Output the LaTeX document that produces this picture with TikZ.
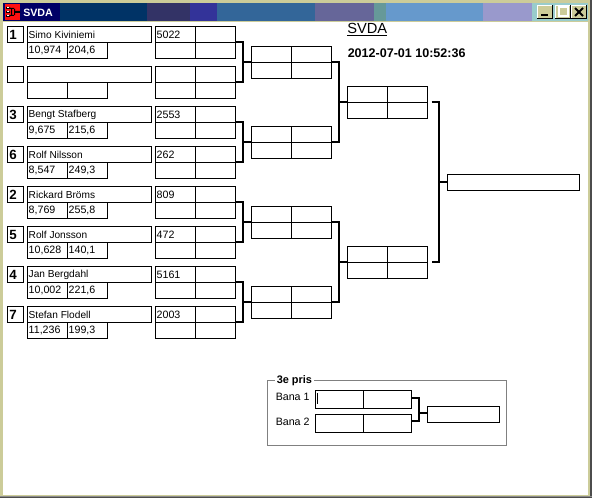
\documentclass[tikz,border=0pt]{standalone}
\usepackage{fontspec}
\setmainfont{Liberation Sans}
\definecolor{frame}{HTML}{CCCC99}
\definecolor{groupline}{HTML}{808080}
\definecolor{tbA}{HTML}{000066}
\definecolor{tbB}{HTML}{003366}
\definecolor{tbC}{HTML}{333366}
\definecolor{tbD}{HTML}{333399}
\definecolor{tbE}{HTML}{336699}
\definecolor{tbF}{HTML}{666699}
\definecolor{tbG}{HTML}{669999}
\definecolor{tbH}{HTML}{6699CC}
\definecolor{tbI}{HTML}{9999CC}
\definecolor{tbJ}{HTML}{99CCCC}
\definecolor{iconred}{HTML}{FF1010}
\tikzset{x=0.75pt,y=-0.75pt,
 cell/.style={draw=black,line width=0.75pt,fill=white,minimum height=12pt,minimum width=0.75pt*#1,inner sep=0pt,outer sep=0pt,anchor=north west},
 cell/.default=40,
 txt/.style={font=\fontsize{7.6pt}{8pt}\selectfont,anchor=west,inner sep=0pt,outer sep=0pt},
 numtxt/.style={font=\fontsize{8pt}{8pt}\selectfont,anchor=west,inner sep=0pt,outer sep=0pt},
 seedtxt/.style={font=\bfseries\fontsize{10pt}{10pt}\selectfont,anchor=west,inner sep=0pt},
 link/.style={draw=black,line width=1.5pt,line cap=butt,line join=miter}}
\newcommand{\player}[7]{% id, y, seed, name, a, b, score
 \node[cell=16] (s#1) at (7,#2) {};
 \node[seedtxt] at ([xshift=1.2pt]s#1.west) {#3};
 \node[cell=124] (n#1) at (27,#2) {};
 \node[txt] at ([xshift=0.9pt]n#1.west) {#4};
 \node[cell=40] (a#1) at (27,#2+16) {};
 \node[numtxt] at ([xshift=0.9pt]a#1.west) {#5};
 \node[cell=40] (b#1) at (67,#2+16) {};
 \node[numtxt] at ([xshift=0.9pt]b#1.west) {#6};
 \node[cell=40] (p#1) at (155,#2) {};
 \node[numtxt] at ([xshift=0.9pt]p#1.west) {#7};
 \node[cell=40] (q#1) at (195,#2) {};
 \node[cell=40] (r#1) at (155,#2+16) {};
 \node[cell=40] (t#1) at (195,#2+16) {};
}
\newcommand{\matchbox}[3]{% id, x, y
 \node[cell=40] (m#1a) at (#2,#3) {};
 \node[cell=40] (m#1b) at (#2+40,#3) {};
 \node[cell=40] (m#1c) at (#2,#3+16) {};
 \node[cell=40] (m#1d) at (#2+40,#3+16) {};
}
% bracket: upper source, lower source, junction, target (all node anchors lifted half a pixel)
\newcommand{\bracket}[4]{%
 \draw[link] ([yshift=0.375pt]#1) -| (#3) |- ([yshift=0.375pt]#2);
 \draw[link] (#3) -- ([yshift=0.375pt]#4);
}
\begin{document}
\begin{tikzpicture}
\useasboundingbox (0,0) rectangle (592,498);
\fill[frame] (0,0) rectangle (592,498);
\fill[white] (3,22) rectangle (588,495);
\fill[black!70] (0,497) rectangle (592,498);
\fill[black!70] (590,0) rectangle (592,498);
\fill[black!45] (0,496) rectangle (592,497);
% title bar
\fill[tbA] (3,3) rectangle (60,21);
\fill[tbB] (60,3) rectangle (147,21);
\fill[tbC] (147,3) rectangle (190,21);
\fill[tbD] (190,3) rectangle (217,21);
\fill[tbE] (217,3) rectangle (315,21);
\fill[tbF] (315,3) rectangle (374,21);
\fill[tbG] (374,3) rectangle (386,21);
\fill[tbH] (386,3) rectangle (483,21);
\fill[tbI] (483,3) rectangle (532,21);
\fill[tbJ] (532,3) rectangle (588,21);
% icon
\fill[iconred] (5,4) rectangle (20,20);
\fill[black] (6,7) rectangle (10,9) (6,11) rectangle (10,13) (6,15) rectangle (10,17) (11,8) rectangle (12,16) (10,8) rectangle (14,9) (10,15) rectangle (14,16) (14,9) rectangle (15,15) (15,11) rectangle (17,13) (17,11) rectangle (20,13);
\fill[white] (7,7) rectangle (9,8) (7,11) rectangle (9,12) (7,15) rectangle (9,16);
\node[anchor=west,inner sep=0pt,text=white,font=\bfseries\fontsize{8pt}{8pt}\selectfont] (wintitle) at (23,12.5) {SVDA};
% window buttons
\foreach \bx in {537,555,571}{
 \fill[black] (\bx,5) rectangle (\bx+16,19);
 \fill[white] (\bx,5) rectangle (\bx+15,18);
 \fill[frame] (\bx+1,6) rectangle (\bx+15,18);
}
\fill[black] (541,14) rectangle (548,16);
\draw[white,line width=1.5pt] (558.5,7.5) rectangle (567.5,16.5);
\draw[black,line width=1.5pt,line cap=butt] (575,8) -- (583,16) (583,8) -- (575,16);
\begin{scope}[shift={(0.5,0.5)}]
\player{1}{26}{1}{Simo Kiviniemi}{10,974}{204,6}{5022}
\player{2}{66}{}{}{}{}{}
\player{3}{106}{3}{Bengt Stafberg}{9,675}{215,6}{2553}
\player{4}{146}{6}{Rolf Nilsson}{8,547}{249,3}{262}
\player{5}{186}{2}{Rickard Bröms}{8,769}{255,8}{809}
\player{6}{226}{5}{Rolf Jonsson}{10,628}{140,1}{472}
\player{7}{266}{4}{Jan Bergdahl}{10,002}{221,6}{5161}
\player{8}{306}{7}{Stefan Flodell}{11,236}{199,3}{2003}
\matchbox{A}{251}{46}
\matchbox{B}{251}{126}
\matchbox{C}{251}{206}
\matchbox{D}{251}{286}
\matchbox{E}{347}{86}
\matchbox{F}{347}{246}
\node[cell=132] (final) at (447,174) {};
\coordinate (jA) at (242.5,61.5);
\coordinate (jB) at (242.5,141.5);
\coordinate (jC) at (242.5,221.5);
\coordinate (jD) at (242.5,301.5);
\coordinate (jE) at (338.5,101.5);
\coordinate (jF) at (338.5,261.5);
\coordinate (jG) at (438.5,181.5);
\coordinate (sE) at (431,101.5);
\coordinate (sF) at (431,261.5);
\bracket{t1.north east}{t2.north east}{jA}{mAc.north west}
\bracket{t3.north east}{t4.north east}{jB}{mBc.north west}
\bracket{t5.north east}{t6.north east}{jC}{mCc.north west}
\bracket{t7.north east}{t8.north east}{jD}{mDc.north west}
\bracket{mAd.north east}{mBd.north east}{jE}{mEc.north west}
\bracket{mCd.north east}{mDd.north east}{jF}{mFc.north west}
\draw[link] (sE) -| (jG) |- (sF);
\draw[link] (jG) -- ([yshift=0.375pt]final.west);
% title and time
\node[anchor=west,inner sep=0pt,font=\fontsize{11pt}{11pt}\selectfont] (title) at (346.5,29.5) {\underline{SVDA}};
\node[anchor=west,inner sep=0pt,font=\bfseries\fontsize{9.4pt}{10pt}\selectfont] (stamp) at (347,52.5) {2012-07-01 10:52:36};
% third prize group
\draw[groupline,line width=0.75pt] (267,380) rectangle (506,445);
\node[anchor=west,fill=white,inner sep=1.5pt,font=\bfseries\fontsize{8.2pt}{9pt}\selectfont] (prize) at (274,380.5) {3e pris};
\node[anchor=west,inner sep=0pt,font=\fontsize{8pt}{9pt}\selectfont] (b1) at (275,396.5) {Bana 1};
\node[anchor=west,inner sep=0pt,font=\fontsize{8pt}{9pt}\selectfont] (b2) at (275,421) {Bana 2};
\node[cell=48,minimum height=13.5pt] (x1) at (315,390) {};
\node[cell=48,minimum height=13.5pt] (y1) at (363,390) {};
\node[cell=48,minimum height=13.5pt] (x2) at (315,414) {};
\node[cell=48,minimum height=13.5pt] (y2) at (363,414) {};
\node[cell=72] (third) at (427,406) {};
\coordinate (jH) at (418.5,413);
\draw[link] ([yshift=0.75pt]y1.east) -| (jH) |- ([yshift=1.5pt]y2.east);
\draw[link] (jH) -- ([yshift=0.75pt]third.west);
\draw[black,line width=0.75pt] (317,393) -- (317,404);
\end{scope}
\end{tikzpicture}
\end{document}
